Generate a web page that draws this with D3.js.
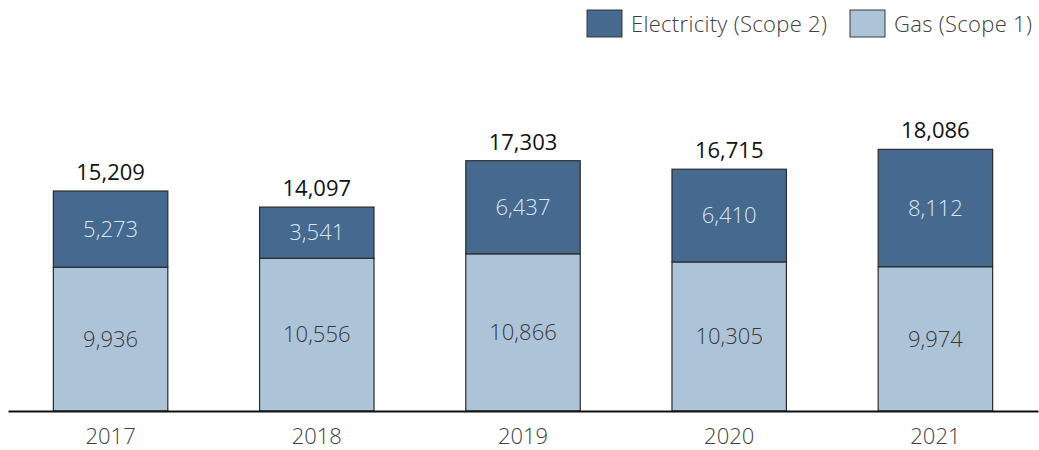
<!DOCTYPE html>
<html>
<head>
<meta charset="utf-8">
<script src="https://cdn.jsdelivr.net/npm/d3@7"></script>
<style>
  body { margin: 0; background: #fff; }
  svg { display: block; font-family: "Open Sans", "Noto Sans", sans-serif; }
</style>
</head>
<body>
<svg id="chart"></svg>
<script>
var years = ["2017", "2018", "2019", "2020", "2021"];
var gas = [9936, 10556, 10866, 10305, 9974];
var electricity = [5273, 3541, 6437, 6410, 8112];
var seriesNames = ["Electricity (Scope 2)", "Gas (Scope 1)"];

var width = 1039, height = 450;
var baseY = 411;
var darkColor = "#45698f", lightColor = "#adc3d8";

var svg = d3.select("#chart").attr("width", width).attr("height", height);

var rows = years.map(function (y, i) {
  return { year: y, gas: gas[i], electricity: electricity[i] };
});
var stack = d3.stack().keys(["gas", "electricity"]);
var layers = stack(rows);

var x = d3.scaleBand().domain(years).range([8, 1038]).paddingInner(0.445).paddingOuter(0.22);
var y = d3.scaleLinear().domain([0, 28413]).range([baseY, 0]);

var colors = { gas: lightColor, electricity: darkColor };
var textColors = { gas: "#383838", electricity: "#dce6f0" };

var fmt = d3.format(",");

var g = svg.append("g");
layers.forEach(function (layer) {
  var key = layer.key;
  g.selectAll(".bar-" + key)
    .data(layer)
    .enter()
    .append("rect")
    .attr("x", function (d) { return x(d.data.year); })
    .attr("y", function (d) { return y(d[1]); })
    .attr("width", x.bandwidth())
    .attr("height", function (d) { return y(d[0]) - y(d[1]); })
    .attr("fill", colors[key])
    .attr("stroke", "#2b2b2b")
    .attr("stroke-width", 1.2);

  g.selectAll(".lbl-" + key)
    .data(layer)
    .enter()
    .append("text")
    .attr("x", function (d) { return x(d.data.year) + x.bandwidth() / 2; })
    .attr("y", function (d) { return (y(d[0]) + y(d[1])) / 2; })
    .attr("dy", "0.35em")
    .attr("text-anchor", "middle")
    .attr("font-size", 22)
    .attr("font-weight", 300)
    .attr("fill", textColors[key])
    .text(function (d) { return fmt(d.data[key]); });
});

// totals
g.selectAll(".total")
  .data(rows)
  .enter()
  .append("text")
  .attr("x", function (d) { return x(d.year) + x.bandwidth() / 2; })
  .attr("y", function (d) { return y(d.gas + d.electricity) - 11; })
  .attr("text-anchor", "middle")
  .attr("font-size", 22)
  .attr("fill", "#111")
  .text(function (d) { return fmt(d.gas + d.electricity); });

// x axis
var axis = svg.append("g")
  .attr("transform", "translate(0," + baseY + ")")
  .call(d3.axisBottom(x).tickSize(0).tickPadding(17));
axis.select(".domain").attr("stroke", "#111").attr("stroke-width", 2);
axis.selectAll("text")
  .attr("font-size", 22)
  .attr("font-weight", 300)
  .attr("fill", "#404040")
  .attr("font-family", "\"Open Sans\", sans-serif");

// legend
var legendItems = [
  { name: seriesNames[0], color: darkColor, x: 587 },
  { name: seriesNames[1], color: lightColor, x: 850 }
];
var legend = svg.append("g");
legendItems.forEach(function (it) {
  legend.append("rect")
    .attr("x", it.x).attr("y", 10)
    .attr("width", 35).attr("height", 27)
    .attr("fill", it.color)
    .attr("stroke", "#3a3a3a").attr("stroke-width", 1);
  legend.append("text")
    .attr("x", it.x + 44).attr("y", 24)
    .attr("dy", "0.35em")
    .attr("font-size", 22)
    .attr("font-weight", 300)
    .attr("letter-spacing", 0.3)
    .attr("fill", "#404040")
    .text(it.name);
});
</script>
</body>
</html>
